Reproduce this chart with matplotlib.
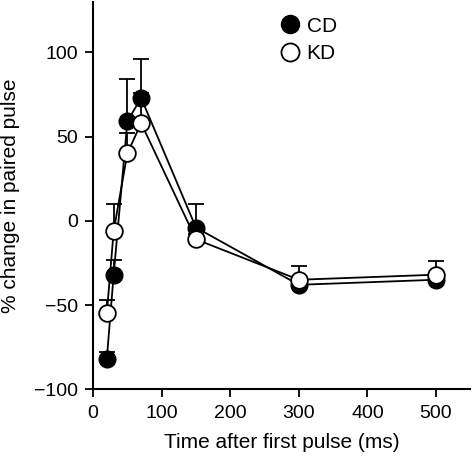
import matplotlib
matplotlib.use("Agg")
import matplotlib.pyplot as plt
from matplotlib.lines import Line2D

plt.rcParams["font.family"] = ["Liberation Sans", "DejaVu Sans"]

# Interval between pulses (ms)
time_ms = [20, 30, 50, 70, 150, 300, 500]

# % change in paired pulse, mean and upper error
cd_mean = [-82, -32, 59, 73, -4, -38, -35]
cd_err = [4, 9, 25, 23, 14, 3, 3]
kd_mean = [-55, -6, 40, 58, -11, -35, -32]
kd_err = [8, 16, 12, 18, 3, 8, 8]

fig = plt.figure(figsize=(4.75, 4.59), dpi=100)
ax = fig.add_axes([0.196, 0.152, 0.794, 0.844])

# Filled circles (CD)
ax.errorbar(time_ms, cd_mean, yerr=[[0] * len(cd_err), cd_err], fmt="-o",
            color="black", mfc="black", mec="black", ms=12, lw=1.3,
            elinewidth=1.3, capsize=6, capthick=1.3, zorder=2)
# Open circles (KD)
ax.errorbar(time_ms, kd_mean, yerr=[[0] * len(kd_err), kd_err], fmt="-o",
            color="black", mfc="white", mec="black", mew=1.3, ms=12, lw=1.3,
            elinewidth=1.3, capsize=6, capthick=1.3, zorder=3)

ax.set_xlim(0, 550)
ax.set_ylim(-100, 130)
ax.set_xticks([0, 100, 200, 300, 400, 500])
ax.set_yticks([-100, -50, 0, 50, 100])
ax.set_yticklabels(["\u2212100", "\u221250", "0", "50", "100"])
ax.tick_params(labelsize=14, width=1.3, length=6, pad=5)
ax.spines["top"].set_visible(False)
ax.spines["right"].set_visible(False)
for s in ["left", "bottom"]:
    ax.spines[s].set_linewidth(1.5)

ax.set_xlabel("Time after first pulse (ms)", fontsize=15, labelpad=8)
ax.set_ylabel("% change in paired pulse", fontsize=15, labelpad=10)

handles = [
    Line2D([], [], ls="none", marker="o", ms=13, mfc="black", mec="black"),
    Line2D([], [], ls="none", marker="o", ms=13, mfc="white", mec="black", mew=1.3),
]
ax.legend(handles, ["CD", "KD"], loc="upper left", bbox_to_anchor=(0.45, 1.01),
          frameon=False, fontsize=15, handlelength=0.8, handletextpad=0.4,
          labelspacing=0.4)

fig.savefig("out.png", dpi=100)
